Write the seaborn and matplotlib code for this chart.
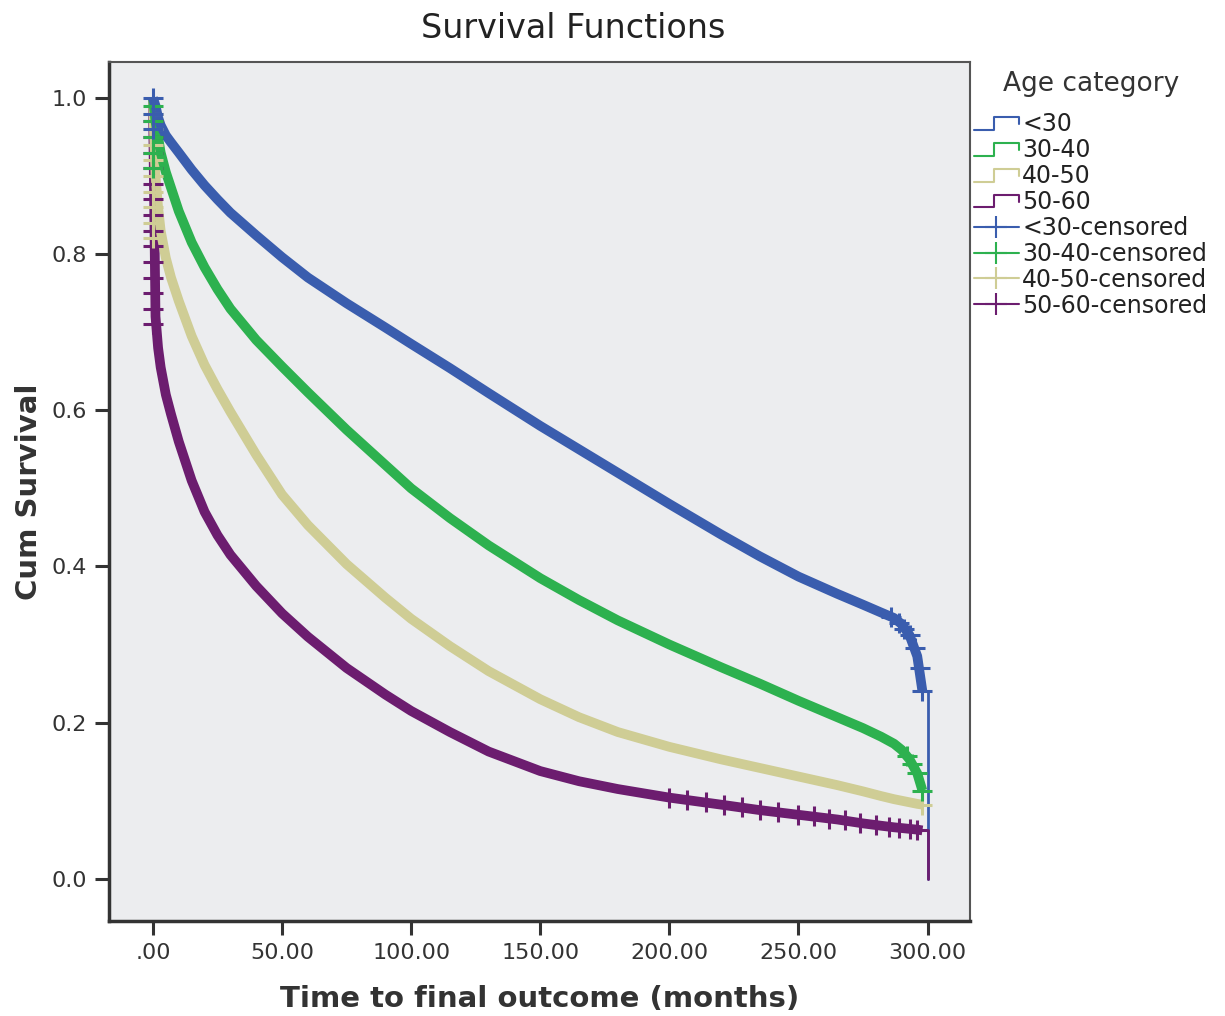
import numpy as np
import pandas as pd
import seaborn as sns
import matplotlib.pyplot as plt
from matplotlib.lines import Line2D
from matplotlib.legend_handler import HandlerBase

# Kaplan-Meier curves
months = [0, 1, 2, 3, 5, 7, 10, 15, 20, 25, 30, 40, 50, 60, 75, 90, 100, 115, 130, 150, 165, 180,
          200, 220, 235, 250, 265, 275, 282, 287, 290, 293, 296, 298]
surv_lt30 = [1.0, 0.99, 0.975, 0.965, 0.952, 0.943, 0.93, 0.908, 0.888, 0.87, 0.853, 0.824, 0.796,
             0.77, 0.737, 0.706, 0.685, 0.654, 0.622, 0.58, 0.55, 0.52, 0.48, 0.441, 0.413, 0.387,
             0.365, 0.351, 0.341, 0.334, 0.326, 0.312, 0.285, 0.24]
surv_30_40 = [1.0, 0.97, 0.95, 0.93, 0.905, 0.885, 0.855, 0.815, 0.783, 0.755, 0.73, 0.69, 0.656,
              0.623, 0.575, 0.53, 0.50, 0.462, 0.427, 0.385, 0.357, 0.331, 0.30, 0.271, 0.25, 0.228,
              0.207, 0.193, 0.182, 0.173, 0.165, 0.153, 0.135, 0.113]
surv_40_50 = [1.0, 0.90, 0.86, 0.83, 0.795, 0.77, 0.74, 0.695, 0.658, 0.627, 0.598, 0.543, 0.492,
              0.453, 0.403, 0.36, 0.333, 0.298, 0.266, 0.23, 0.207, 0.188, 0.169, 0.153, 0.142, 0.131,
              0.12, 0.112, 0.106, 0.102, 0.1, 0.098, 0.096, 0.095]
surv_50_60 = [1.0, 0.72, 0.68, 0.655, 0.62, 0.595, 0.56, 0.51, 0.47, 0.44, 0.415, 0.375, 0.34,
              0.31, 0.27, 0.236, 0.215, 0.188, 0.163, 0.138, 0.125, 0.115, 0.104, 0.095, 0.088, 0.082,
              0.076, 0.071, 0.068, 0.066, 0.065, 0.064, 0.063, 0.062]

# censored marks (visible ones)
cens_lt30_t = [0, 0, 0, 286, 289, 291, 293, 295, 297, 298]
cens_lt30_s = [1.0, 0.98, 0.96, 0.335, 0.328, 0.32, 0.312, 0.295, 0.27, 0.24]
cens_30_40_t = [0, 0, 0, 0, 0, 292, 294, 296, 298]
cens_30_40_s = [0.99, 0.97, 0.95, 0.93, 0.91, 0.157, 0.147, 0.135, 0.113]
cens_40_50_t = [0, 0, 0, 0, 0, 0, 0, 0, 0, 298]
cens_40_50_s = [0.98, 0.96, 0.94, 0.92, 0.90, 0.88, 0.86, 0.84, 0.82, 0.095]
cens_50_60_t = [0, 0, 0, 0, 0, 0, 0, 0, 0, 0, 0, 0, 0, 0,
                200, 207, 214, 221, 228, 235, 242, 250, 256, 262, 268, 274, 280, 285, 289, 293, 296]
cens_50_60_s = [0.97, 0.95, 0.93, 0.91, 0.89, 0.87, 0.85, 0.83, 0.81, 0.79, 0.77, 0.75, 0.73, 0.71,
                0.104, 0.101, 0.098, 0.095, 0.092, 0.088, 0.085, 0.082, 0.08, 0.077, 0.075, 0.072,
                0.069, 0.067, 0.065, 0.064, 0.063]

groups = ["<30", "30-40", "40-50", "50-60"]
colors = ["#3A5DAE", "#2DB14F", "#CFCD95", "#6C1D6F"]
x_ticks = [0, 50, 100, 150, 200, 250, 300]
x_ticklabels = [".00", "50.00", "100.00", "150.00", "200.00", "250.00", "300.00"]
y_ticks = [0.0, 0.2, 0.4, 0.6, 0.8, 1.0]
y_ticklabels = ["0.0", "0.2", "0.4", "0.6", "0.8", "1.0"]

curves = pd.concat([
    pd.DataFrame({"t": months, "s": s, "group": g})
    for s, g in zip([surv_lt30, surv_30_40, surv_40_50, surv_50_60], groups)
])
cens = pd.concat([
    pd.DataFrame({"t": t, "s": s, "group": g})
    for t, s, g in zip([cens_lt30_t, cens_30_40_t, cens_40_50_t, cens_50_60_t],
                       [cens_lt30_s, cens_30_40_s, cens_40_50_s, cens_50_60_s], groups)
])
# final drop at 300 months
tail = pd.DataFrame({"t": [298, 300, 300, 298, 300, 300],
                     "s": [0.24, 0.24, 0.0, 0.062, 0.062, 0.0],
                     "group": ["<30"] * 3 + ["50-60"] * 3})

pal = dict(zip(groups, colors))

sns.set_style("white")
plt.rcParams["font.family"] = ["DejaVu Sans"]
fig = plt.figure(figsize=(12.25, 10.16), dpi=100)
ax = fig.add_axes([0.089, 0.0935, 0.703, 0.8455])
ax.set_facecolor("#ECEDEF")

for g in groups[::-1]:
    sub = curves[curves["group"] == g]
    sns.lineplot(data=sub, x="t", y="s", color=pal[g], lw=7, estimator=None, sort=False, ax=ax,
                 solid_capstyle="butt", solid_joinstyle="round")
for g in ["<30", "50-60"]:
    sub = tail[tail["group"] == g]
    sns.lineplot(data=sub, x="t", y="s", color=pal[g], lw=2, estimator=None, sort=False, ax=ax)
for g in groups[::-1]:
    sub = cens[cens["group"] == g]
    ax.plot(sub["t"], sub["s"], ls="none", marker="+", ms=14, mew=2.2, color=pal[g])

ax.set_xlim(-17, 316.5)
ax.set_ylim(-0.054, 1.046)
ax.set_xticks(x_ticks)
ax.set_xticklabels(x_ticklabels)
ax.set_yticks(y_ticks)
ax.set_yticklabels(y_ticklabels)
ax.tick_params(axis="both", direction="out", length=10, width=2.2, color="#333333",
               labelsize=16, labelcolor="#333333", pad=6, left=True, bottom=True)
for side in ["top", "right"]:
    ax.spines[side].set_color("#555555")
    ax.spines[side].set_linewidth(1.5)
for side in ["left", "bottom"]:
    ax.spines[side].set_color("#333333")
    ax.spines[side].set_linewidth(2.5)

ax.set_xlabel("Time to final outcome (months)", fontsize=21, fontweight="bold", color="#333333", labelpad=16)
ax.set_ylabel("Cum Survival", fontsize=21, fontweight="bold", color="#333333", labelpad=6)
fig.text(0.468, 0.972, "Survival Functions", ha="center", va="center", fontsize=24, color="#222222")


class StepHandler(HandlerBase):
    def create_artists(self, legend, orig_handle, xdescent, ydescent, width, height, fontsize, trans):
        x0 = -xdescent
        y0 = -ydescent
        xs = [x0, x0 + width * 0.45, x0 + width * 0.45, x0 + width, x0 + width]
        ys = [y0 + height * 0.1, y0 + height * 0.1, y0 + height * 0.85, y0 + height * 0.85, y0 + height * 0.45]
        ln = Line2D(xs, ys, color=orig_handle.get_color(), lw=1.5, transform=trans)
        return [ln]


step_handles = [Line2D([0], [0], color=c) for c in colors]
cens_handles = [Line2D([0], [0], color=c, lw=1.5, marker="+", ms=16, mew=1.5) for c in colors]
labels = groups + [g + "-censored" for g in groups]
handler_map = {h: StepHandler() for h in step_handles}
leg = fig.legend(step_handles + cens_handles, labels, handler_map=handler_map,
                 loc="upper left", bbox_to_anchor=(0.795, 0.930), frameon=False,
                 title="Age category", fontsize=17, title_fontsize=19,
                 handlelength=1.9, handletextpad=0.15, labelspacing=0.08, borderaxespad=0, borderpad=0)
leg._legend_box.sep = 11
for t in leg.get_texts():
    t.set_color("#222222")
leg.get_title().set_color("#333333")

fig.savefig("out.png", dpi=100, facecolor="white")
